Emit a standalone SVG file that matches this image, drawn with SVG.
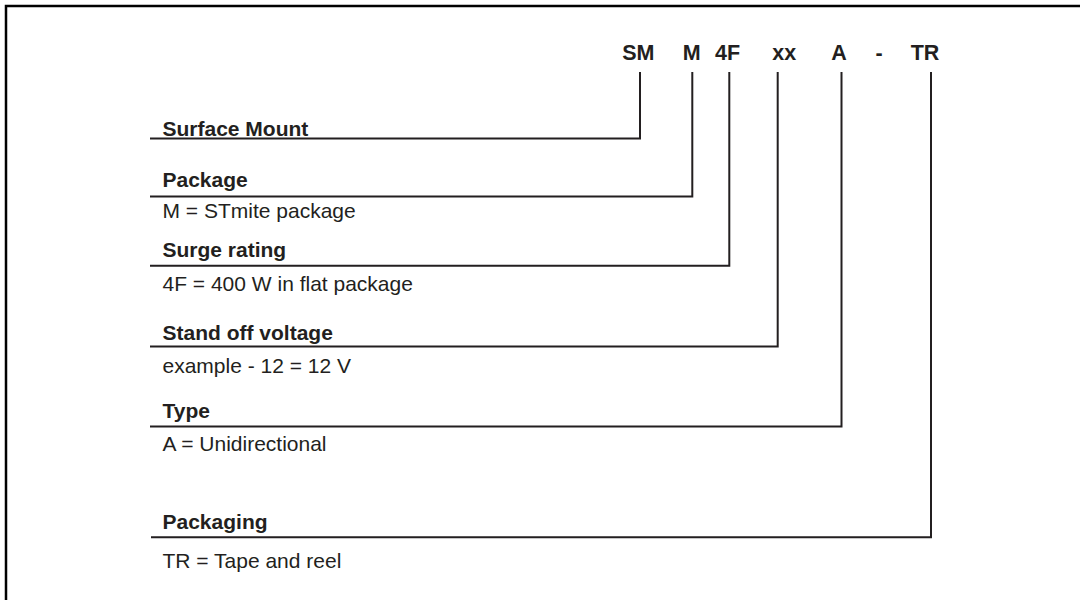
<svg xmlns="http://www.w3.org/2000/svg" width="1080" height="600" viewBox="0 0 1080 600">
<style>
.frame{fill:none;stroke:#000;stroke-width:2.5}
.ln{fill:none;stroke:#231f20;stroke-width:2}
.code{font-family:"Liberation Sans",Arial,sans-serif;font-weight:bold;font-size:21.5px;fill:#231f20;text-anchor:middle}
.hd{font-family:"Liberation Sans",Arial,sans-serif;font-weight:bold;font-size:21px;fill:#231f20}
.tx{font-family:"Liberation Sans",Arial,sans-serif;font-size:21px;fill:#231f20}
</style>
<rect width="1080" height="600" fill="#fff"/>
<path class="frame" d="M6,600 V6 H1080"/>
<g id="code">
<text class="code" x="638.3" y="60">SM</text>
<text class="code" x="691.7" y="60">M</text>
<text class="code" x="727.5" y="60">4F</text>
<text class="code" x="784.2" y="60">xx</text>
<text class="code" x="839" y="60">A</text>
<text class="code" x="879.2" y="60">-</text>
<text class="code" x="925" y="60">TR</text>
</g>
<g id="connectors">
<path class="ln" d="M640,72 V138.5 H150"/>
<path class="ln" d="M692.3,72 V196.5 H150"/>
<path class="ln" d="M729.3,72 V265.7 H150"/>
<path class="ln" d="M777.7,72 V346.5 H150"/>
<path class="ln" d="M841.5,72 V426.5 H150"/>
<path class="ln" d="M931,72 V537.3 H151"/>
</g>
<g id="surface-mount"><text class="hd" x="162.5" y="136">Surface Mount</text></g>
<g id="package"><text class="hd" x="162.5" y="187">Package</text><text class="tx" x="162.5" y="218">M = STmite package</text></g>
<g id="surge-rating"><text class="hd" x="162.5" y="257">Surge rating</text><text class="tx" x="162.5" y="291">4F = 400 W in flat package</text></g>
<g id="stand-off"><text class="hd" x="162.5" y="340">Stand off voltage</text><text class="tx" x="162.5" y="372.7">example - 12 = 12 V</text></g>
<g id="type"><text class="hd" x="162.5" y="418">Type</text><text class="tx" x="162.5" y="451">A = Unidirectional</text></g>
<g id="packaging"><text class="hd" x="162.5" y="529">Packaging</text><text class="tx" x="162.5" y="568">TR = Tape and reel</text></g>
</svg>
